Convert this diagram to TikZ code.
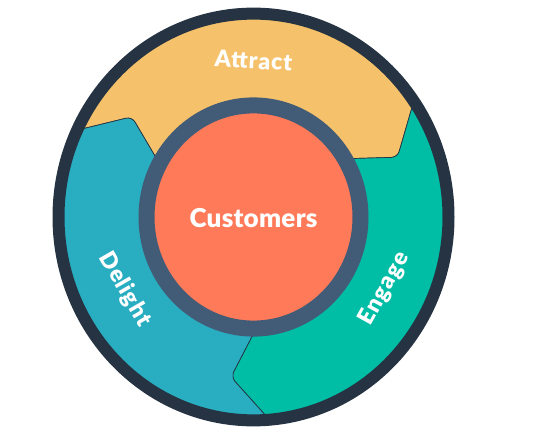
\documentclass[tikz,border=0pt]{standalone}
\usepackage{fontspec}
\setmainfont{Lato}[BoldFont={Lato Black}]
\definecolor{ringdark}{HTML}{253342}
\definecolor{slatering}{HTML}{425B76}
\definecolor{coral}{HTML}{FF7A59}
\definecolor{attractcol}{HTML}{F5C26B}
\definecolor{delightcol}{HTML}{29ADC1}
\definecolor{engagecol}{HTML}{00BDA5}
\begin{document}
\begin{tikzpicture}[x=1pt, y=1pt,
    segment/.style={draw=ringdark, line width=0.7pt},
    stagetext/.style={text=white, font=\bfseries\fontsize{23}{23}\selectfont\addfontfeatures{LetterSpace=4}},
    hubtext/.style={text=white, font=\bfseries\fontsize{26}{26}\selectfont\addfontfeatures{LetterSpace=1}}]
	\useasboundingbox (0,0) rectangle (544,444);
	\coordinate (C) at (253.5,227);

	\begin{scope}[shift={(C)}, yscale=1.043]
		% Draw the three arrow segments
		\draw[segment, fill=attractcol] (154:192) arc[start angle=154, end angle=34, radius=192]
			[rounded corners=6] -- (21.7:155) [sharp corners] -- (30:112)
			arc[start angle=30, end angle=150, radius=112]
			[rounded corners=6] -- (141.7:155) [sharp corners] -- cycle;
		\draw[segment, fill=delightcol] (274:192) arc[start angle=274, end angle=154, radius=192]
			[rounded corners=6] -- (141.7:155) [sharp corners] -- (150:112)
			arc[start angle=150, end angle=270, radius=112]
			[rounded corners=6] -- (261.7:155) [sharp corners] -- cycle;
		\draw[segment, fill=engagecol] (34:192) arc[start angle=34, end angle=-86, radius=192]
			[rounded corners=6] -- (-98.3:155) [sharp corners] -- (-90:112)
			arc[start angle=-90, end angle=30, radius=112]
			[rounded corners=6] -- (21.7:155) [sharp corners] -- cycle;

		% Draw the outer ring and the hub
		\draw[ringdark, line width=12] (0,0) circle[radius=195];
		\draw[draw=slatering, fill=coral, line width=16] (0,0) circle[radius=107];

		% Labels
		\node[stagetext, rotate=-3] (attract) at (90:150) {Attract};
		\node[stagetext, rotate=-60] (delight) at (208.4:146) {Delight};
		\node[stagetext, rotate=61] (engage) at (-27.7:148) {Engage};
	\end{scope}

	\node[hubtext] (customers) at (253.5,226) {Customers};
\end{tikzpicture}
\end{document}
